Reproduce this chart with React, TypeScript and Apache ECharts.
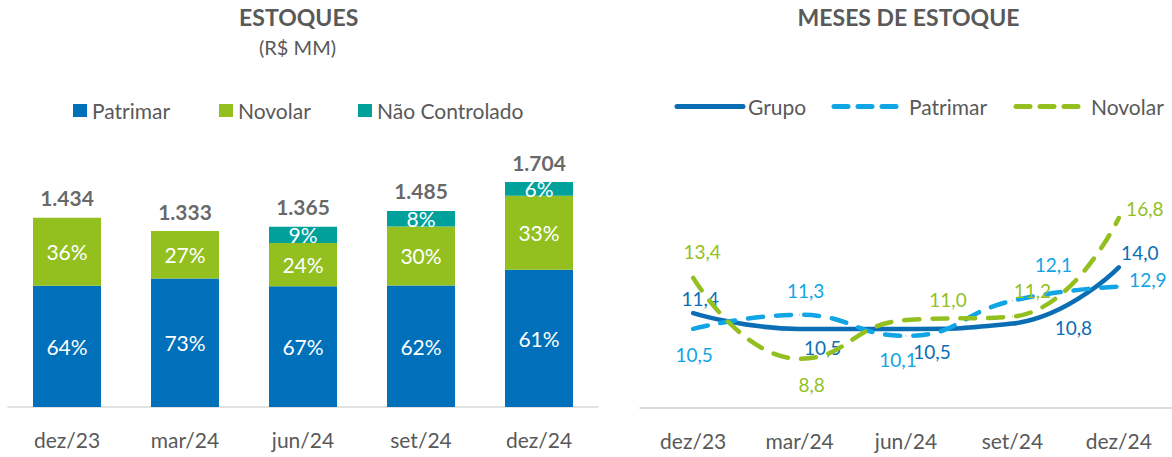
import React, { useEffect, useRef } from "react";
import * as echarts from "echarts";

// ---------- DATA ----------
const categories = ["dez/23", "mar/24", "jun/24", "set/24", "dez/24"];

// Estoques (R$ MM)
const patrimarStock = [918, 973, 915, 921, 1039];
const novolarStock = [516, 360, 328, 446, 562];
const naoControladoStock = [0, 0, 122, 118, 103];

// Meses de estoque
const grupoMonths = [11.4, 10.5, 10.5, 10.8, 14.0];
const patrimarMonths = [10.5, 11.3, 10.1, 12.1, 12.9];
const novolarMonths = [13.4, 8.8, 11.0, 11.2, 16.8];

// ---------- STYLE ----------
const FONT = 'Lato, "Open Sans", sans-serif';
const GRAY = "#595959";
const C_BLUE = "#0070BA";
const C_GREEN = "#93C01F";
const C_TEAL = "#00A19B";
const C_GRUPO = "#0B6EB5";
const C_PATRIMAR_LINE = "#10A5E4";
const C_NOVOLAR_LINE = "#93C01F";

// label offsets for line labels (pixels, relative to the point)
const grupoLabelOffsets = [[7, -15], [23, 19], [26, 23], [61, 4], [21, -15]];
const patrimarLabelOffsets = [[1, 26], [6, -24], [-8, 24], [41, -36], [29, -7]];
const novolarLabelOffsets = [[9, -26], [12, 26], [42, -21], [20, -26], [26, -10]];

const totals = categories.map(
  (_, i) => patrimarStock[i] + novolarStock[i] + naoControladoStock[i]
);

const fmtThousands = (n: number) =>
  String(n).replace(/\B(?=(\d{3})+(?!\d))/g, ".");
const fmtDec = (n: number) => n.toFixed(1).replace(".", ",");
const pct = (v: number, t: number) => (v ? Math.round((v / t) * 100) + "%" : "");

function leftOption(): any {
  const barLabel = {
    show: true,
    position: "inside",
    color: "#ffffff",
    fontSize: 21,
    fontFamily: FONT,
    formatter: (p: any) => pct(p.value, totals[p.dataIndex]),
  };
  const legendBase = {
    top: 95,
    icon: "rect",
    itemWidth: 14,
    itemHeight: 13,
    textStyle: { color: GRAY, fontSize: 21, fontFamily: FONT },
    selectedMode: false,
  };
  return {
    animation: false,
    backgroundColor: "#ffffff",
    textStyle: { fontFamily: FONT },
    graphic: [
      {
        type: "text",
        x: 298.7,
        y: 17.3,
        style: {
          text: "ESTOQUES",
          fill: GRAY,
          fontSize: 23,
          fontWeight: "bold",
          fontFamily: FONT,
          align: "center",
          verticalAlign: "middle",
        },
      },
      {
        type: "text",
        x: 297.5,
        y: 46.7,
        style: {
          text: "(R$ MM)",
          fill: GRAY,
          fontSize: 20,
          fontFamily: FONT,
          align: "center",
          verticalAlign: "middle",
        },
      },
    ],
    legend: [
      { ...legendBase, left: 68, data: ["Patrimar"] },
      { ...legendBase, left: 214, data: ["Novolar"] },
      { ...legendBase, left: 353, data: ["Não Controlado"] },
    ],
    grid: { left: 8, width: 590, top: 143, height: 264 },
    xAxis: {
      type: "category",
      data: categories,
      axisLine: { lineStyle: { color: "#D9D9D9", width: 1.5 } },
      axisTick: { show: false },
      axisLabel: { color: GRAY, fontSize: 21, fontFamily: FONT, margin: 22 },
    },
    yAxis: {
      type: "value",
      min: 0,
      max: 2000,
      show: false,
      splitLine: { show: false },
    },
    series: [
      {
        type: "bar",
        name: "Patrimar",
        stack: "s",
        data: patrimarStock,
        barWidth: 68,
        itemStyle: { color: C_BLUE },
        label: barLabel,
      },
      {
        type: "bar",
        name: "Novolar",
        stack: "s",
        data: novolarStock,
        barWidth: 68,
        itemStyle: { color: C_GREEN },
        label: barLabel,
      },
      {
        type: "bar",
        name: "Não Controlado",
        stack: "s",
        data: naoControladoStock,
        barWidth: 68,
        itemStyle: { color: C_TEAL },
        label: barLabel,
      },
      {
        type: "scatter",
        name: "Total",
        data: totals,
        symbolSize: 1,
        itemStyle: { color: "rgba(0,0,0,0)" },
        silent: true,
        z: 5,
        label: {
          show: true,
          position: "top",
          distance: 9,
          color: "#404040",
          fontSize: 21,
          fontWeight: "bold",
          fontFamily: FONT,
          formatter: (p: any) => fmtThousands(p.value),
        },
      },
    ],
  };
}

function rightOption(): any {
  const mkLine = (
    name: string,
    values: number[],
    offsets: number[][],
    color: string,
    dashed: boolean,
    z: number
  ) => ({
    type: "line",
    name,
    data: values.map((v, i) => ({ value: v, label: { offset: offsets[i] } })),
    smooth: 0.5,
    symbol: "circle",
    symbolSize: 1,
    showSymbol: true,
    z,
    itemStyle: { color },
    lineStyle: {
      color,
      width: 4.5,
      cap: "round",
      type: dashed ? [15, 13] : "solid",
    },
    label: {
      show: true,
      position: "inside",
      color,
      fontSize: 19,
      fontFamily: FONT,
      formatter: (p: any) => fmtDec(p.value),
    },
  });
  const legendBase = {
    top: 91,
    itemHeight: 14,
    textStyle: { color: GRAY, fontSize: 21, fontFamily: FONT },
    selectedMode: false,
    itemStyle: { opacity: 0 },
  };
  return {
    animation: false,
    backgroundColor: "#ffffff",
    textStyle: { fontFamily: FONT },
    graphic: [
      {
        type: "text",
        x: 288.5,
        y: 16.7,
        style: {
          text: "MESES DE ESTOQUE",
          fill: GRAY,
          fontSize: 23,
          fontWeight: "bold",
          fontFamily: FONT,
          align: "center",
          verticalAlign: "middle",
        },
      },
    ],
    legend: [
      {
        ...legendBase,
        left: 49.5,
        itemWidth: 66,
        data: ["Grupo"],
        lineStyle: { width: 5, cap: "round", type: "solid" },
      },
      {
        ...legendBase,
        left: 206.5,
        itemWidth: 70,
        data: ["Patrimar"],
        lineStyle: { width: 5, cap: "round", type: [14, 10] },
      },
      {
        ...legendBase,
        left: 388.5,
        itemWidth: 70,
        data: ["Novolar"],
        lineStyle: { width: 5, cap: "round", type: [14, 10] },
      },
    ],
    grid: { left: 20, right: 0, top: 197, height: 211 },
    xAxis: {
      type: "category",
      data: categories,
      boundaryGap: true,
      axisLine: { lineStyle: { color: "#D0D0D0", width: 1.5 } },
      axisTick: { show: false },
      axisLabel: { color: GRAY, fontSize: 21, fontFamily: FONT, margin: 22 },
    },
    yAxis: {
      type: "value",
      min: 6,
      max: 18,
      show: false,
      splitLine: { show: false },
    },
    series: [
      mkLine("Grupo", grupoMonths, grupoLabelOffsets, C_GRUPO, false, 2),
      mkLine("Patrimar", patrimarMonths, patrimarLabelOffsets, C_PATRIMAR_LINE, true, 3),
      mkLine("Novolar", novolarMonths, novolarLabelOffsets, C_NOVOLAR_LINE, true, 4),
    ],
  };
}

function ChartBox(props: { left: number; width: number; option: () => any }) {
  const ref = useRef<HTMLDivElement>(null);
  useEffect(() => {
    if (!ref.current) return;
    const chart = echarts.init(ref.current, undefined, { renderer: "svg" });
    chart.setOption(props.option());
    return () => chart.dispose();
  }, []);
  return (
    <div
      ref={ref}
      style={{
        position: "absolute",
        left: props.left,
        top: 0,
        width: props.width,
        height: 457,
      }}
    />
  );
}

export default function App() {
  return (
    <div
      style={{
        position: "fixed",
        left: 0,
        top: 0,
        width: 1172,
        height: 457,
        background: "#ffffff",
        overflow: "hidden",
      }}
    >
      <ChartBox left={0} width={620} option={leftOption} />
      <ChartBox left={620} width={552} option={rightOption} />
    </div>
  );
}
